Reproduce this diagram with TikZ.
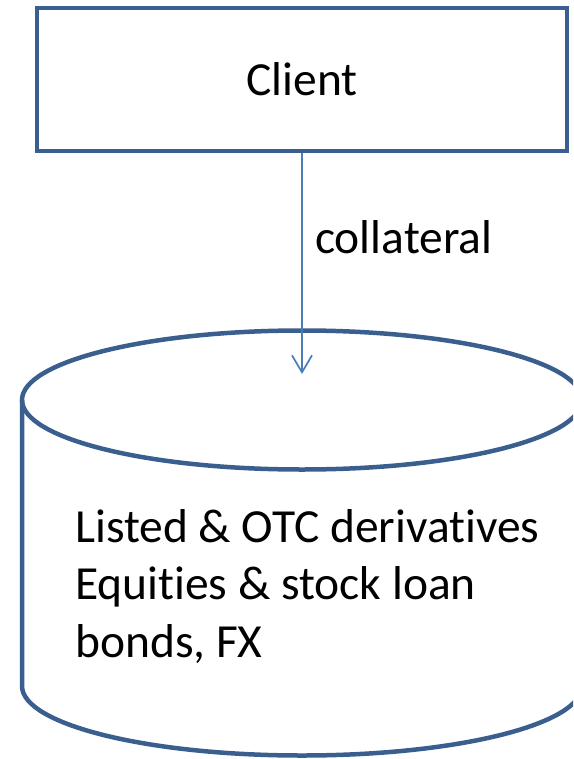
\documentclass[tikz,border=0pt]{standalone}
\usepackage{fontspec}
\setmainfont[Ligatures=NoCommon]{Carlito}
\usetikzlibrary{arrows.meta}
\definecolor{outline}{HTML}{3A5F8E}
\definecolor{arrowblue}{HTML}{4A7EBB}
\tikzset{
  boxstyle/.style={draw=outline, line width=4.5pt, rectangle, minimum width=530pt, minimum height=143pt, inner sep=0pt},
  cylstyle/.style={draw=outline, line width=4.5pt},
  flow/.style={draw=arrowblue, line width=1.7pt, -{Straight Barb[length=17pt,width=20pt,line width=1.7pt]}},
  bigtext/.style={font=\fontsize{47.5}{57.5}\selectfont, inner sep=0pt, text=black}
}
\begin{document}
\begin{tikzpicture}[x=1pt,y=-1pt]
\useasboundingbox (0,0) rectangle (573,759);
\clip (0,0) rectangle (573,759);
\node[boxstyle, bigtext] (client) at (302,79.5) {Client};
% cylinder
\draw[cylstyle] (22,400) -- (22,686) arc[start angle=180, end angle=0, x radius=280, y radius=69.5] -- (582,400);
\draw[cylstyle] (302,400) ellipse [x radius=280, y radius=69.5];
\coordinate (cyltop) at (302,374);
\draw[flow] (client.south) -- (cyltop);
\node[bigtext, anchor=base west] (lbl) at (315,253) {collateral};
\node[bigtext, anchor=base west, align=left] (store) at (75,657) {Listed \& OTC derivatives\\Equities \& stock loan\\bonds, FX};
\end{tikzpicture}
\end{document}
